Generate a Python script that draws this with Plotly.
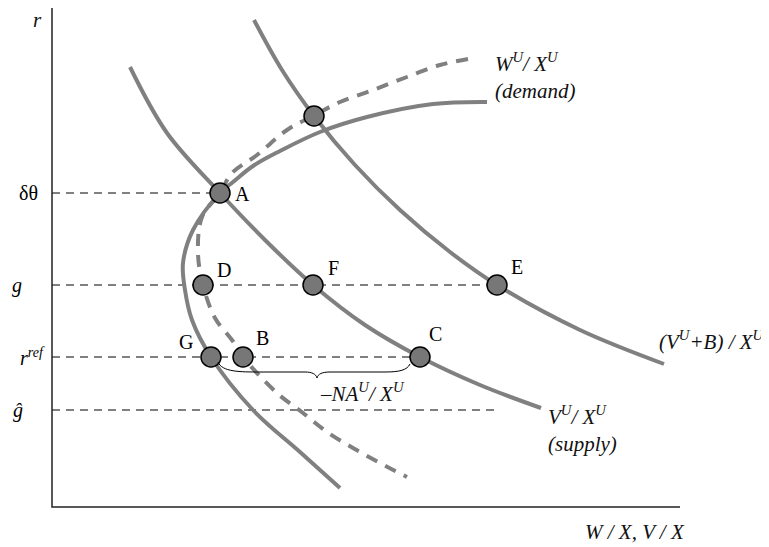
import plotly.graph_objects as go

# positions (x to the right, y downward in px)
supply_x = [130, 167, 220, 265, 313, 365, 420, 480, 541]
supply_y = [67, 133, 193, 240, 285, 325, 357, 385, 408]

shifted_x = [254, 282, 314, 355, 400, 450, 497, 580, 664]
shifted_y = [20, 70, 116, 165, 210, 252, 285, 330, 364]

demand_x = [487, 433, 367, 320, 280, 253, 233, 220, 193, 183, 185, 192, 211, 253, 300, 340]
demand_y = [102, 104, 117, 132, 151, 166, 182, 193, 230, 263, 290, 320, 357, 410, 452, 488]

dashed_x = [468, 440, 407, 373, 340, 313, 287, 257, 232, 220, 202, 198, 203, 215, 232, 243, 277, 303, 327, 353, 380, 407]
dashed_y = [59, 65, 77, 90, 102, 116, 130, 155, 173, 193, 217, 253, 285, 318, 340, 357, 393, 413, 432, 448, 463, 477]

levels = [193, 285, 357, 410]
level_ends = [220, 497, 420, 495]
level_labels = ["δθ", "<i>g</i>", "<i>r<sup>ref</sup></i>", "<i>ĝ</i>"]
level_label_x = [17, 10, 18, 11]

pt_names = ["A", "D", "F", "E", "G", "B", "C", ""]
pt_x = [220, 203, 313, 497, 211, 243, 420, 314]
pt_y = [193, 285, 285, 285, 357, 357, 357, 116]
lbl_x = [242, 224, 333, 517, 186, 262, 435, 0]
lbl_y = [194, 270, 268, 267, 342, 338, 334, 0]

axis_x0, axis_y0, axis_x1, axis_top = 52, 507, 680, 5

grey = "#808080"
font = "Liberation Serif, Times New Roman, serif"

fig = go.Figure()

# reference levels
for yv, xe in zip(levels, level_ends):
    fig.add_trace(go.Scatter(x=[axis_x0, xe], y=[yv, yv], mode="lines",
                             line=dict(color="black", width=1, dash="8px,6px")))

fig.add_trace(go.Scatter(x=supply_x, y=supply_y, mode="lines",
                         line=dict(color=grey, width=4, shape="spline")))
fig.add_trace(go.Scatter(x=shifted_x, y=shifted_y, mode="lines",
                         line=dict(color=grey, width=4, shape="spline")))
fig.add_trace(go.Scatter(x=demand_x, y=demand_y, mode="lines",
                         line=dict(color=grey, width=4, shape="spline", smoothing=1)))
fig.add_trace(go.Scatter(x=dashed_x, y=dashed_y, mode="lines",
                         line=dict(color=grey, width=4, shape="spline", dash="12px,9px")))

# axes
fig.add_trace(go.Scatter(x=[axis_x0, axis_x0, axis_x1], y=[axis_top, axis_y0, axis_y0],
                         mode="lines", line=dict(color="#222", width=1.5)))

# brace under G..C
fig.add_shape(type="path",
              path="M 218 362 C 222 372, 240 372, 260 372 L 305 372 C 312 372, 316 374, 317 378 "
                   "C 318 374, 322 372, 330 372 L 385 372 C 400 372, 407 370, 410 364",
              line=dict(color="black", width=1))

fig.add_trace(go.Scatter(x=pt_x, y=pt_y, mode="markers",
                         marker=dict(size=20, color="#777777", line=dict(color="black", width=1.5))))

for n, x, y in zip(pt_names, lbl_x, lbl_y):
    if n:
        fig.add_annotation(x=x, y=y, text=n, showarrow=False, font=dict(size=20, family=font, color="black"))

for t, x, y in zip(level_labels, level_label_x, levels):
    fig.add_annotation(x=x, y=y, text=t, showarrow=False, xanchor="left",
                       font=dict(size=20, family=font, color="black"))

texts = [
    (37, 20, "<i>r</i>", "center"),
    (493, 62, "<i>W<sup>U</sup>/ X<sup>U</sup></i>", "left"),
    (493, 91, "<i>(demand)</i>", "left"),
    (767, 340, "<i>(V<sup>U</sup>+B) / X<sup>U</sup></i>", "right"),
    (546, 415, "<i>V<sup>U</sup>/ X<sup>U</sup></i>", "left"),
    (546, 444, "<i>(supply)</i>", "left"),
    (362, 392, "<i>–NA<sup>U</sup>/ X<sup>U</sup></i>", "center"),
    (635, 532, "<i>W / X, V / X</i>", "center"),
]
for x, y, t, a in texts:
    fig.add_annotation(x=x, y=y, text=t, showarrow=False, xanchor=a,
                       font=dict(size=21, family=font, color="#111"))

# the page body has an 8px margin, so the ranges start at 8
fig.update_layout(
    width=769, height=547, margin=dict(l=0, r=0, t=0, b=0),
    plot_bgcolor="white", paper_bgcolor="white", showlegend=False,
    xaxis=dict(range=[8, 777], visible=False, fixedrange=True),
    yaxis=dict(range=[555, 8], visible=False, fixedrange=True),
)

fig.write_html("out.html")
